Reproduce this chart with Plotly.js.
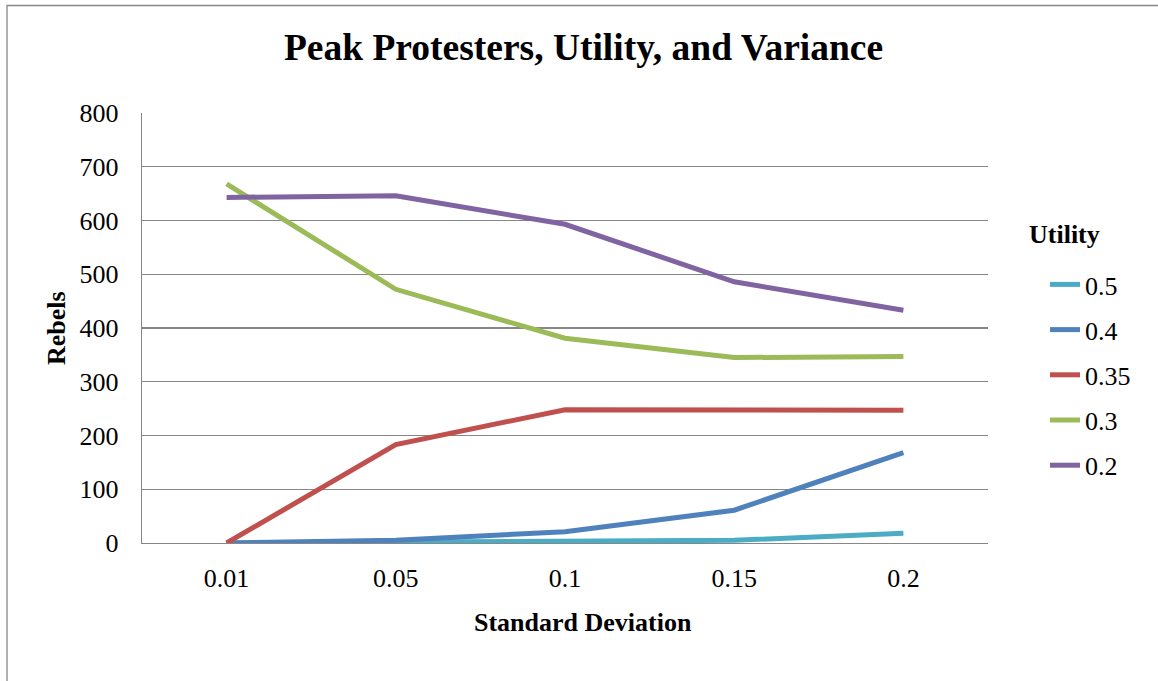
<!DOCTYPE html>
<html>
<head>
<meta charset="utf-8">
<script src="https://cdn.plot.ly/plotly-3.0.1.min.js"></script>
<style>
html,body{margin:0;padding:0;background:#fff;}
#chart{width:1158px;height:681px;}
</style>
</head>
<body>
<div id="chart"></div>
<script>
// ---- data ----
var stdDevs = ['0.01', '0.05', '0.1', '0.15', '0.2'];
var seriesNames = ['0.5', '0.4', '0.35', '0.3', '0.2'];
var util050 = [0, 1, 2, 5, 18];
var util040 = [0, 5, 21, 61, 168];
var util035 = [0, 183, 248, 247, 247];
var util030 = [668, 472, 381, 345, 347];
var util020 = [643, 646, 593, 486, 433];
var yTickVals = [0, 100, 200, 300, 400, 500, 600, 700, 800];

var titleText = 'Peak Protesters, Utility, and Variance';
var xTitleText = 'Standard Deviation';
var yTitleText = 'Rebels';
var legendTitleText = 'Utility';

// ---- styling ----
var colors = ['#4BACC6', '#4F81BD', '#C0504D', '#9BBB59', '#8064A2'];
var FONT = "'Liberation Serif', 'Times New Roman', serif";
var W = 1158, H = 681;
var L = 142, R = 988, T = 113, B = 543;
function xp(px){ return (px - L) / (R - L); }
function yp(py){ return (B - py) / (B - T); }

var values = [util050, util040, util035, util030, util020];
var traces = values.map(function(v, i){
  return {
    type: 'scatter', mode: 'lines',
    x: stdDevs, y: v, name: seriesNames[i],
    legendgroup: 'g' + i,
    line: {color: colors[i], width: 5},
    hoverinfo: 'x+y+name'
  };
});

var layout = {
  width: W, height: H,
  margin: {l: L, r: W - R, t: T, b: H - B, pad: 0},
  paper_bgcolor: '#fff', plot_bgcolor: '#fff',
  font: {family: FONT, size: 26, color: '#000'},
  title: {
    text: '<b>' + titleText + '</b>',
    font: {family: FONT, size: 37.5, color: '#000'},
    x: 583.5 / W, xanchor: 'center', xref: 'container',
    y: 1 - 47 / H, yanchor: 'middle', yref: 'container'
  },
  showlegend: true,
  legend: {
    x: xp(1045), xanchor: 'left', y: yp(261), yanchor: 'top',
    font: {family: FONT, size: 26, color: '#000'},
    tracegroupgap: 8.4, bgcolor: 'rgba(0,0,0,0)', borderwidth: 0,
    traceorder: 'grouped'
  },
  xaxis: {
    type: 'category', range: [-0.5, 4.5],
    showgrid: false, zeroline: false,
    showline: true, linecolor: '#878787', linewidth: 1.3,
    ticks: '', ticklabelstandoff: 11,
    tickfont: {family: FONT, size: 26, color: '#000'},
    fixedrange: true
  },
  yaxis: {
    range: [0, 800], tickvals: yTickVals, ticktext: yTickVals.map(String),
    showgrid: true, gridcolor: '#878787', gridwidth: 1.3,
    zeroline: false,
    showline: true, linecolor: '#878787', linewidth: 1.3,
    ticks: '', ticklabelstandoff: 17,
    tickfont: {family: FONT, size: 26, color: '#000'},
    fixedrange: true
  },
  annotations: [
    {text: '<b>' + xTitleText + '</b>', xref: 'paper', yref: 'paper',
     x: xp(582.5), y: yp(622), xanchor: 'center', yanchor: 'middle',
     showarrow: false, font: {family: FONT, size: 26, color: '#000'}},
    {text: '<b>' + yTitleText + '</b>', xref: 'paper', yref: 'paper',
     x: xp(56), y: yp(328), xanchor: 'center', yanchor: 'middle', textangle: -90,
     showarrow: false, font: {family: FONT, size: 26, color: '#000'}},
    {text: '<b>' + legendTitleText + '</b>', xref: 'paper', yref: 'paper',
     x: xp(1027), y: yp(234), xanchor: 'left', yanchor: 'middle',
     showarrow: false, font: {family: FONT, size: 26, color: '#000'}}
  ],
  shapes: [
    {type: 'rect', xref: 'paper', yref: 'paper',
     x0: xp(7), x1: xp(1200), y0: yp(720), y1: yp(5.5),
     line: {color: '#888888', width: 1.3}, fillcolor: 'rgba(0,0,0,0)', layer: 'below'}
  ]
};

Plotly.newPlot('chart', traces, layout, {displayModeBar: false, staticPlot: true});
</script>
</body>
</html>
